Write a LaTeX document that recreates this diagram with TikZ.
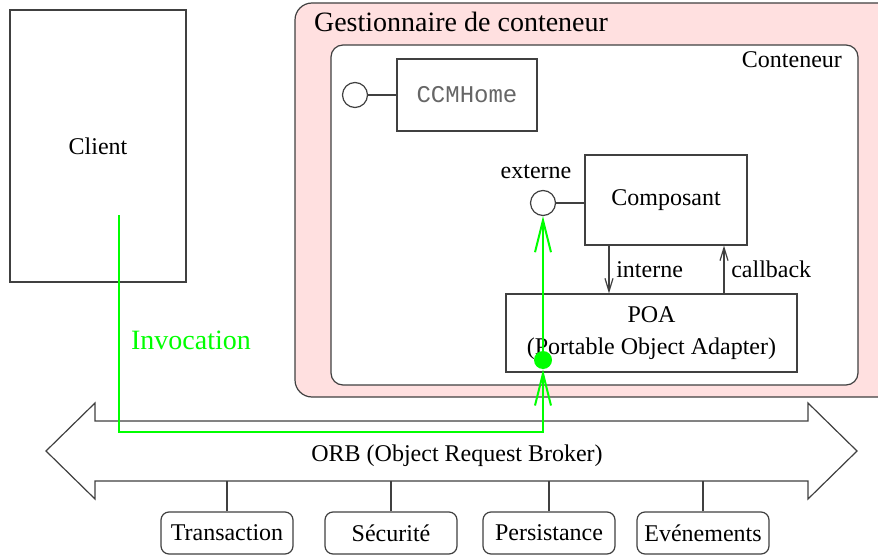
\documentclass[tikz,border=0pt]{standalone}
\usepackage{fontspec}
\setmainfont{Liberation Serif}
\setmonofont{Liberation Mono}
\usetikzlibrary{arrows.meta}
\definecolor{rose}{RGB}{255,224,224}
\definecolor{vert}{RGB}{0,255,0}
\definecolor{gris}{RGB}{64,64,64}
\tikzstyle{schema}=[
    x=0.5pt, y=-0.5pt,
    every node/.style={font={\fontsize{12}{15}\selectfont}},
    boite/.style={draw=gris, line width=0.6pt, rectangle, fill=white},
    service/.style={boite, rounded corners=4pt, minimum width=66pt, minimum height=21pt, inner sep=2pt},
    interface/.style={draw=gris, line width=0.6pt, circle, fill=white, minimum size=12.5pt, inner sep=0pt},
    lien/.style={gris, line width=0.6pt},
    fleche/.style={lien, -{Straight Barb[length=6.5pt,width=4pt]}},
    etiquette/.style={text=black, right},
    invocation/.style={vert, line width=1pt, -{Straight Barb[length=16pt,width=8pt]}},
    grand/.style={font={\fontsize{14}{17}\selectfont}}
]

\begin{document}
\begin{tikzpicture}[schema]
    \useasboundingbox (0,0) rectangle (878,556);

    \node[boite, fill=rose, rounded corners=8.5pt, minimum width=300pt, minimum height=197pt] (gestion) at (595,200) {};
    \node[grand, anchor=base west] (titre) at (307,32) {Gestionnaire de conteneur};
    \node[boite, rounded corners=6pt, minimum width=263.5pt, minimum height=170pt] (conteneur) at (594.5,215) {};
    \node[anchor=base east] (nomconteneur) at (849,68) {Conteneur};

    \node[boite, minimum width=70pt, minimum height=36pt, font={\fontsize{12}{15}\ttfamily}, text=gris!80] (home) at (467,95) {CCMHome};
    \node[interface] (ihome) at (355,95) {};
    \draw[lien] (ihome) -- (home);

    \node[boite, minimum width=81pt, minimum height=45pt] (composant) at (666,200) {Composant};
    \node[interface] (externe) at (543,203) {};
    \node (nomexterne) at (536,172) {externe};
    \draw[lien] (externe.east) -- (externe.east -| composant.west);

    \node[boite, minimum width=145.5pt, minimum height=39pt, align=center] (poa) at (651.5,333) {POA\\[1pt](Portable Object Adapter)};
    \draw[fleche] (composant.south -| 609,0) -- (poa.north -| 609,0) node[midway, etiquette] {interne};
    \draw[fleche] (poa.north -| 724,0) -- (composant.south -| 724,0) node[midway, etiquette] {callback};

    \node[boite, minimum width=88pt, minimum height=136pt] (client) at (98,146) {Client};
    \node[grand, text=vert] (invoc) at (191,340) {Invocation};

    \draw[lien, fill=white] (46,451) -- (95,403) -- (95,421) -- (808,421) -- (808,403) -- (857,451)
        -- (808,499) -- (808,481) -- (95,481) -- (95,499) -- cycle;
    \node (orb) at (457,456) {ORB (Object Request Broker)};
    \coordinate (orbbas) at (451.5,481);

    \foreach \x/\nom/\texte in {227/transaction/Transaction, 391/securite/Sécurité, 549/persistance/Persistance, 703/evenements/Evénements}{
        \node[service] (\nom) at (\x,533) {\texte};
        \draw[lien] (\nom.north) -- (\nom.north |- orbbas);
    }

    \coordinate (depart) at (119,215);
    \coordinate (coude) at (543,432);
    \node[circle, fill=vert, minimum size=9pt, inner sep=0pt] (point) at (543,360) {};
    \draw[invocation] (depart) |- (coude) -- (point.south);
    \draw[invocation] (point) -- (externe.south);
\end{tikzpicture}
\end{document}
